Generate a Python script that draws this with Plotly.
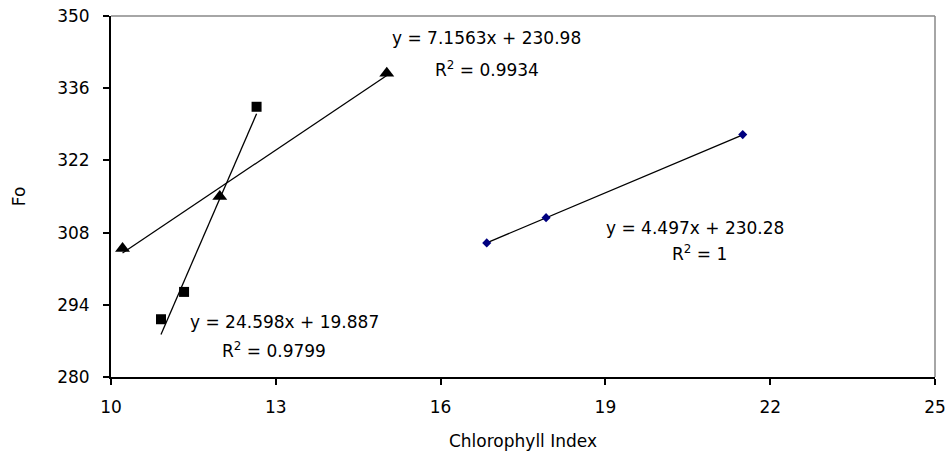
import plotly.graph_objects as go

# Data
tri_x = [10.21, 11.98, 15.02]
tri_y = [304.9, 315.0, 338.9]
sq_x = [10.91, 11.33, 12.65]
sq_y = [291.2, 296.5, 332.4]
dia_x = [16.84, 17.92, 21.5]
dia_y = [306.0, 310.9, 327.0]

# Trendline coefficients (from labels)
tri_fit = (7.1563, 230.98)
sq_fit = (24.598, 19.887)
dia_fit = (4.497, 230.28)

x_ticks = [10, 13, 16, 19, 22, 25]
y_ticks = [280, 294, 308, 322, 336, 350]

FONT = "DejaVu Sans, sans-serif"
W, H = 949, 457
L, R, T, B = 111, 14, 16, 80

fig = go.Figure()

def trend(xs, fit):
    x0, x1 = min(xs), max(xs)
    return [x0, x1], [fit[0] * x0 + fit[1], fit[0] * x1 + fit[1]]

for xs, fit in [(tri_x, tri_fit), (sq_x, sq_fit), (dia_x, dia_fit)]:
    lx, ly = trend(xs, fit)
    fig.add_trace(go.Scatter(x=lx, y=ly, mode="lines",
                             line=dict(color="black", width=1.3),
                             showlegend=False, hoverinfo="skip"))

fig.add_trace(go.Scatter(x=tri_x, y=tri_y, mode="markers",
                         marker=dict(symbol="triangle-up", size=13, color="black"),
                         showlegend=False))
fig.add_trace(go.Scatter(x=sq_x, y=sq_y, mode="markers",
                         marker=dict(symbol="square", size=10, color="black"),
                         showlegend=False))
fig.add_trace(go.Scatter(x=dia_x, y=dia_y, mode="markers",
                         marker=dict(symbol="diamond", size=7, color="#000080"),
                         showlegend=False))

ann_font = dict(family=FONT, size=17, color="black")
annots = [
    (486, 38, "y = 7.1563x + 230.98"),
    (487, 69, "R<sup>2</sup> = 0.9934"),
    (284, 322, "y = 24.598x + 19.887"),
    (274, 350, "R<sup>2</sup> = 0.9799"),
    (695, 228, "y = 4.497x + 230.28"),
    (699, 253, "R<sup>2</sup> = 1"),
]
pw, ph = W - L - R, H - T - B
for px, py, txt in annots:
    fig.add_annotation(x=(px - L) / pw, y=(H - B - py) / ph, xref="paper", yref="paper",
                       text=txt, showarrow=False, font=ann_font,
                       xanchor="center", yanchor="middle")

# gray top/right border
fig.add_shape(type="line", xref="x domain", yref="y domain", x0=0, x1=1, y0=1, y1=1,
              line=dict(color="#888888", width=1.5))
fig.add_shape(type="line", xref="x domain", yref="y domain", x0=1, x1=1, y0=0, y1=1,
              line=dict(color="#888888", width=1.5))

fig.update_layout(
    width=W, height=H,
    margin=dict(l=L, r=R, t=T, b=B),
    paper_bgcolor="white", plot_bgcolor="white",
    font=dict(family=FONT, size=17, color="black"),
    xaxis=dict(range=[10, 25], tickvals=x_ticks, ticktext=[str(v) for v in x_ticks],
               showgrid=False, zeroline=False, showline=True, linecolor="black",
               linewidth=2, ticks="outside", ticklen=6, tickwidth=2, tickcolor="black",
               ticklabelstandoff=8, automargin=False,
               title=dict(text="Chlorophyll Index", font=dict(size=17), standoff=19)),
    yaxis=dict(range=[280, 350], tickvals=y_ticks, ticktext=[str(v) for v in y_ticks],
               showgrid=False, zeroline=False, showline=True, linecolor="black",
               linewidth=2, ticks="outside", ticklen=6, tickwidth=2, tickcolor="black",
               ticklabelstandoff=10, automargin=False,
               title=dict(text="Fo", font=dict(size=17), standoff=27)),
)

fig.write_html("out.html")
